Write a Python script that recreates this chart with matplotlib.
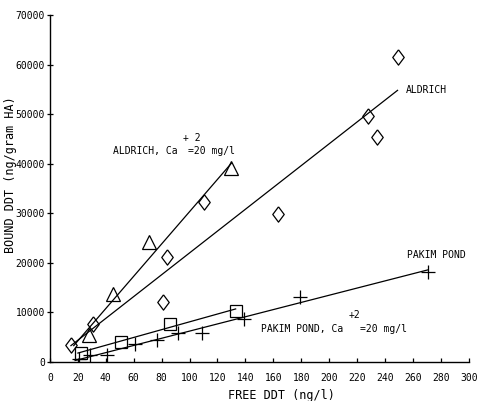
import matplotlib
matplotlib.use("Agg")
import matplotlib.pyplot as plt

plt.rcParams['font.family'] = 'DejaVu Sans Mono'
plt.rcParams['font.size'] = 7

# Aldrich humic acid (diamonds)
ald_x = [15, 31, 81, 84, 110, 163, 228, 234, 249]
ald_y = [3400, 7700, 12000, 21200, 32300, 29900, 49600, 45400, 61600]
ald_line_x = [15, 249]
ald_line_y = [3300, 54800]

# Aldrich, Ca+2 = 20 mg/l (triangles)
aldca_x = [28, 45, 71, 130]
aldca_y = [5500, 13700, 24200, 39100]
aldca_line_x = [17, 130]
aldca_line_y = [3300, 40100]

# Pakim Pond, Ca+2 = 20 mg/l (squares)
pakca_x = [22, 51, 86, 133]
pakca_y = [1800, 4100, 7600, 10300]
pakca_line_x = [20, 133]
pakca_line_y = [1800, 10700]

# Pakim Pond (plus)
pak_x = [21, 29, 41, 61, 77, 92, 109, 139, 179, 271]
pak_y = [600, 1500, 1400, 3700, 4500, 5900, 5900, 8600, 13100, 18200]
pak_line_x = [18, 271]
pak_line_y = [300, 18600]

xticks = list(range(0, 301, 20))
yticks = list(range(0, 70001, 10000))

fig = plt.figure(figsize=(4.78, 4.01), dpi=100)
ax = fig.add_axes([0.1046, 0.0973, 0.876, 0.8653])

diamond = [(0, 1), (0.75, 0), (0, -1), (-0.75, 0), (0, 1)]
mk = dict(color='black', linestyle='none', fillstyle='none', markeredgewidth=0.9)

ax.plot(ald_line_x, ald_line_y, color='black', lw=0.9)
ax.plot(aldca_line_x, aldca_line_y, color='black', lw=0.9)
ax.plot(pakca_line_x, pakca_line_y, color='black', lw=0.9)
ax.plot(pak_line_x, pak_line_y, color='black', lw=0.9)

ax.plot(ald_x, ald_y, marker=diamond, markersize=11, **mk)
ax.plot(aldca_x, aldca_y, marker='^', markersize=10, **mk)
ax.plot(pakca_x, pakca_y, marker='s', markersize=9, **mk)
ax.plot(pak_x, pak_y, marker='+', markersize=10, **mk)

ax.text(255, 54800, 'ALDRICH', ha='left', va='center')
ax.text(256, 21600, 'PAKIM POND', ha='left', va='center')
ax.text(45, 42500, 'ALDRICH, Ca', ha='left', va='center')
ax.text(95, 45100, '+ 2', ha='left', va='center')
ax.text(99, 42500, '=20 mg/l', ha='left', va='center')
ax.text(151, 6650, 'PAKIM POND, Ca', ha='left', va='center')
ax.text(214, 9500, '+2', ha='left', va='center')
ax.text(222, 6650, '=20 mg/l', ha='left', va='center')

ax.set_xlim(0, 300)
ax.set_ylim(0, 70000)
ax.set_xticks(xticks)
ax.set_yticks(yticks)
ax.set_xticklabels([str(v) for v in xticks])
ax.set_yticklabels([str(v) for v in yticks])
ax.tick_params(axis='x', direction='in', length=3, width=0.9, pad=8)
ax.tick_params(axis='y', direction='inout', length=5, width=0.9, pad=1)

for s in ['top', 'right']:
    ax.spines[s].set_visible(False)
for s in ['left', 'bottom']:
    ax.spines[s].set_linewidth(1.0)

ax.set_xlabel('FREE DDT (ng/l)', fontsize=8.5)
ax.set_ylabel('BOUND DDT (ng/gram HA)', fontsize=8.5)
ax.xaxis.set_label_coords(0.553, -0.078)
ax.yaxis.set_label_coords(-0.08, 0.54)

fig.savefig('out.png', dpi=100)
